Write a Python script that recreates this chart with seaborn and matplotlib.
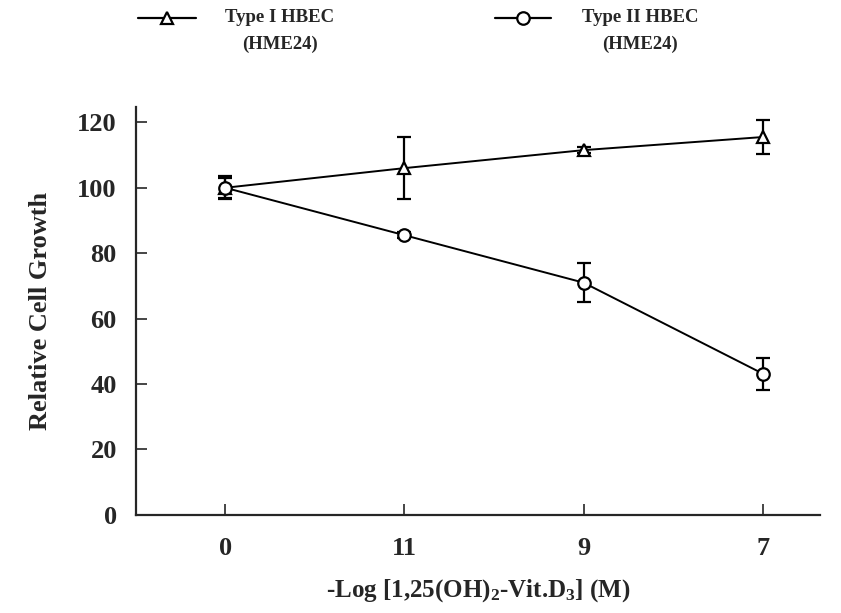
import matplotlib
matplotlib.use("Agg")
import matplotlib.pyplot as plt
from matplotlib.lines import Line2D
import seaborn as sns

# doses shown on the x axis (-log M), in plotted order
doses = ["0", "11", "9", "7"]

# Type I HBEC (HME24): mean and error
type1_mean = [100, 106, 111.5, 115.5]
type1_err = [3.5, 9.5, 1.0, 5.3]

# Type II HBEC (HME24): mean and error
type2_mean = [100, 85.5, 71, 43.2]
type2_err = [3.0, 1.0, 6.0, 4.9]

sns.set_style("ticks")
plt.rcParams['font.family'] = ['Liberation Serif', 'DejaVu Serif']
plt.rcParams['font.weight'] = 'bold'
plt.rcParams['mathtext.fontset'] = 'custom'
plt.rcParams['mathtext.rm'] = 'Liberation Serif:bold'
plt.rcParams['mathtext.default'] = 'rm'

fig = plt.figure(figsize=(8.41, 6.13), dpi=100)
ax = fig.add_axes([0.162, 0.160, 0.813, 0.665])

# lines with open markers
sns.pointplot(x=doses, y=type1_mean, order=doses, color="black", markers="^",
              linestyles="-", errorbar=None, ax=ax, markersize=9, linewidth=1.4,
              markerfacecolor="white", markeredgewidth=1.6, zorder=3)
sns.pointplot(x=doses, y=type2_mean, order=doses, color="black", markers="o",
              linestyles="-", errorbar=None, ax=ax, markersize=9, linewidth=1.4,
              markerfacecolor="white", markeredgewidth=1.6, zorder=3)

# error bars
pos = range(len(doses))
ax.errorbar(pos, type1_mean, yerr=type1_err, fmt="none", ecolor="black",
            elinewidth=1.6, capsize=5, capthick=1.6, zorder=2)
ax.errorbar(pos, type2_mean, yerr=type2_err, fmt="none", ecolor="black",
            elinewidth=1.6, capsize=5, capthick=1.6, zorder=2)

ax.set_xlim(-0.497, 3.32)
ax.set_ylim(0, 124.6)
ax.set_yticks([0, 20, 40, 60, 80, 100, 120])
ax.set_xticks(list(pos))
ax.set_xticklabels(doses)
sns.despine(ax=ax)
ax.spines['left'].set_linewidth(1.6)
ax.spines['bottom'].set_linewidth(1.6)
ax.tick_params(direction="in", length=8, width=1.2, labelsize=19)
ax.tick_params(axis="y", pad=14)
ax.tick_params(axis="x", pad=16)

ax.set_ylabel("Relative Cell Growth", fontsize=19, fontweight="bold", labelpad=18)
ax.set_xlabel(r"-Log [1,25(OH)$_2$-Vit.D$_3$] (M)", fontsize=18,
              fontweight="bold", labelpad=12)

# legend drawn at the top of the figure
y_leg = 1 - 18 / 613
fig.add_artist(Line2D([138 / 841, 196 / 841], [y_leg, y_leg], color="black", lw=1.6))
fig.add_artist(Line2D([167 / 841], [y_leg], marker="^", color="black", mfc="white",
                      ms=9, mew=1.6))
fig.text(280 / 841, 1 - 9 / 613, "Type I HBEC\n(HME24)", ha="center", va="top",
         multialignment="center", fontsize=13.5, fontweight="bold", linespacing=1.75)

fig.add_artist(Line2D([495 / 841, 551 / 841], [y_leg, y_leg], color="black", lw=1.6))
fig.add_artist(Line2D([523 / 841], [y_leg], marker="o", color="black", mfc="white",
                      ms=9, mew=1.6))
fig.text(640 / 841, 1 - 9 / 613, "Type II HBEC\n(HME24)", ha="center", va="top",
         multialignment="center", fontsize=13.5, fontweight="bold", linespacing=1.75)

fig.savefig("out.png", dpi=100)
